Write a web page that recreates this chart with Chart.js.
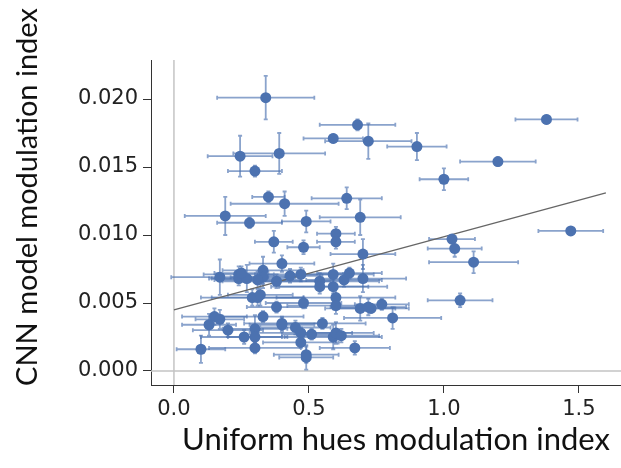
<!DOCTYPE html>
<html>
<head>
<meta charset="utf-8">
<script src="https://cdn.jsdelivr.net/npm/chart.js@4/dist/chart.umd.min.js"></script>
<style>
  html, body { margin: 0; padding: 0; background: #fff; }
  #wrap { width: 621px; height: 468px; }
</style>
</head>
<body>
<div id="wrap"><canvas id="scatterChart" width="621" height="468"></canvas></div>
<script>
// valores
const xVals = [0.34, 0.68, 0.59, 0.72, 0.245, 0.39, 0.30, 0.35, 0.41, 0.64, 0.19, 0.69,
    1.38, 0.90, 1.20, 1.00, 1.47, 1.03, 1.04, 1.11, 1.06, 0.77, 0.81, 0.73,
    0.28, 0.49, 0.60, 0.60, 0.37, 0.48, 0.70, 0.40, 0.17, 0.24, 0.24, 0.27,
    0.33, 0.33, 0.31, 0.38, 0.47, 0.54, 0.54, 0.59, 0.59, 0.63, 0.65, 0.70,
    0.29, 0.31, 0.32, 0.38, 0.48, 0.60, 0.60, 0.69, 0.72, 0.33, 0.15, 0.13,
    0.17, 0.20, 0.26, 0.30, 0.30, 0.30, 0.40, 0.45, 0.47, 0.47, 0.51, 0.49,
    0.49, 0.59, 0.60, 0.67, 0.10, 0.40, 0.55, 0.25, 0.43, 0.62];
const yVals = [0.0201, 0.0181, 0.0171, 0.0169, 0.0158, 0.0160, 0.0147, 0.0128, 0.0123, 0.0127, 0.0114, 0.0113,
    0.0185, 0.0165, 0.0154, 0.0141, 0.0103, 0.0097, 0.0090, 0.0080, 0.0052, 0.0049, 0.0039, 0.0046,
    0.0109, 0.0110, 0.0101, 0.0095, 0.0095, 0.0091, 0.0086, 0.0079, 0.0069, 0.0071, 0.0068, 0.0068,
    0.0074, 0.0069, 0.0067, 0.0066, 0.0071, 0.0066, 0.0062, 0.0071, 0.0062, 0.0067, 0.0072, 0.0068,
    0.0054, 0.0054, 0.0056, 0.0047, 0.0050, 0.0054, 0.0048, 0.0046, 0.0047, 0.0040, 0.0040, 0.0034,
    0.0038, 0.0030, 0.0025, 0.0031, 0.0025, 0.0017, 0.0034, 0.0032, 0.0028, 0.0021, 0.0027, 0.0012,
    0.0010, 0.0025, 0.0028, 0.0017, 0.0016, 0.0035, 0.0035, 0.0072, 0.0070, 0.0026];
const xErr = [0.18, 0.14, 0.11, 0.16, 0.12, 0.17, 0.10, 0.06, 0.20, 0.13, 0.15, 0.15,
    0.115, 0.11, 0.14, 0.09, 0.12, 0.085, 0.10, 0.165, 0.12, 0.10, 0.18, 0.14,
    0.12, 0.09, 0.07, 0.07, 0.07, 0.06, 0.12, 0.12, 0.18, 0.13, 0.10, 0.14,
    0.15, 0.12, 0.16, 0.20, 0.17, 0.22, 0.18, 0.15, 0.20, 0.14, 0.12, 0.16,
    0.19, 0.17, 0.12, 0.11, 0.14, 0.22, 0.18, 0.13, 0.14, 0.15, 0.12, 0.10,
    0.09, 0.13, 0.16, 0.12, 0.10, 0.17, 0.12, 0.13, 0.19, 0.14, 0.11, 0.12,
    0.10, 0.18, 0.14, 0.13, 0.09, 0.14, 0.16, 0.10, 0.12, 0.14];
const yErr = [0.0016, 0.0004, 0.0003, 0.0013, 0.0015, 0.0015, 0.0004, 0.0004, 0.0009, 0.0008, 0.0014, 0.0013,
    0.0003, 0.0010, 0.0003, 0.0008, 0.0002, 0.0003, 0.0006, 0.0008, 0.0005, 0.0004, 0.0008, 0.0003,
    0.0004, 0.0008, 0.0005, 0.0005, 0.0008, 0.0005, 0.0011, 0.0006, 0.0013, 0.0006, 0.0005, 0.0010,
    0.0010, 0.0008, 0.0006, 0.0005, 0.0005, 0.0006, 0.0005, 0.0008, 0.0005, 0.0005, 0.0004, 0.0010,
    0.0006, 0.0006, 0.0008, 0.0004, 0.0004, 0.0008, 0.0006, 0.0009, 0.0006, 0.0004, 0.0006, 0.0008,
    0.0007, 0.0005, 0.0005, 0.0010, 0.0005, 0.0004, 0.0005, 0.0005, 0.0004, 0.0004, 0.0004, 0.0006,
    0.0009, 0.0009, 0.0008, 0.0005, 0.0010, 0.0005, 0.0004, 0.0005, 0.0005, 0.0005];

// recta de regresión
const regX = [0, 1.6];
const regY = [0.0045, 0.0131];

const xTickValues = [0, 0.5, 1.0, 1.5];
const yTickValues = [0, 0.005, 0.010, 0.015, 0.020];

const xTitle = 'Uniform hues modulation index';
const yTitle = 'CNN model modulation index';

const azul = '#4c72b0';
const azulBarras = 'rgba(76, 114, 176, 0.65)';

document.addEventListener('DOMContentLoaded', function() {
    const puntos = xVals.map((x, i) => ({ x: x, y: yVals[i] }));
    const recta = regX.map((x, i) => ({ x: x, y: regY[i] }));

    // líneas grises en cero y barras de error, debajo de los puntos
    const fondoPlugin = {
        id: 'fondo',
        beforeDatasetsDraw(chart) {
            const ctx = chart.ctx;
            const xs = chart.scales.x, ys = chart.scales.y;
            const area = chart.chartArea;
            ctx.save();
            ctx.strokeStyle = '#c4c4c4';
            ctx.lineWidth = 1.5;
            ctx.beginPath();
            const x0 = xs.getPixelForValue(0);
            const y0 = ys.getPixelForValue(0);
            ctx.moveTo(x0, area.top);
            ctx.lineTo(x0, area.bottom);
            ctx.moveTo(area.left, y0);
            ctx.lineTo(area.right, y0);
            ctx.stroke();

            ctx.strokeStyle = azulBarras;
            ctx.lineWidth = 1.8;
            const cap = 2;
            xVals.forEach((x, i) => {
                const px = xs.getPixelForValue(x);
                const py = ys.getPixelForValue(yVals[i]);
                const xl = xs.getPixelForValue(x - xErr[i]);
                const xr = xs.getPixelForValue(x + xErr[i]);
                const yt = ys.getPixelForValue(yVals[i] + yErr[i]);
                const yb = ys.getPixelForValue(yVals[i] - yErr[i]);
                ctx.beginPath();
                ctx.moveTo(xl, py); ctx.lineTo(xr, py);
                ctx.moveTo(xl, py - cap); ctx.lineTo(xl, py + cap);
                ctx.moveTo(xr, py - cap); ctx.lineTo(xr, py + cap);
                ctx.moveTo(px, yt); ctx.lineTo(px, yb);
                ctx.moveTo(px - cap, yt); ctx.lineTo(px + cap, yt);
                ctx.moveTo(px - cap, yb); ctx.lineTo(px + cap, yb);
                ctx.stroke();
            });
            ctx.restore();
        }
    };

    // títulos de ejes colocados como en la figura
    const titulosPlugin = {
        id: 'titulos',
        afterDraw(chart) {
            const ctx = chart.ctx;
            ctx.save();
            ctx.fillStyle = '#111';
            ctx.textAlign = 'center';
            ctx.textBaseline = 'middle';
            ctx.font = '31px Lato';
            ctx.fillText(xTitle, 396, 440);
            ctx.font = '29px Lato';
            ctx.translate(28, 197);
            ctx.rotate(-Math.PI / 2);
            ctx.fillText(yTitle, 0, 0);
            ctx.restore();
        }
    };

    const scatterCtx = document.getElementById('scatterChart').getContext('2d');
    new Chart(scatterCtx, {
        type: 'scatter',
        data: {
            datasets: [{
                label: 'regresión',
                type: 'line',
                data: recta,
                borderColor: '#666',
                borderWidth: 1.3,
                pointRadius: 0,
                fill: false,
                order: 2
            }, {
                label: 'neuronas',
                data: puntos,
                backgroundColor: azul,
                borderColor: azul,
                pointRadius: 5.5,
                pointBorderWidth: 0,
                order: 1
            }]
        },
        options: {
            responsive: false,
            animation: false,
            devicePixelRatio: 1,
            layout: { autoPadding: false, padding: { top: 60, right: 0, left: 0, bottom: 0 } },
            plugins: {
                legend: { display: false },
                tooltip: { enabled: false }
            },
            scales: {
                x: {
                    type: 'linear',
                    min: -0.085,
                    max: 1.656,
                    afterFit: function(scale) {
                        scale.height = 83;
                        scale.paddingRight = 0;
                        scale.paddingLeft = 0;
                    },
                    afterBuildTicks: function(scale) {
                        scale.ticks = xTickValues.map(v => ({ value: v }));
                    },
                    grid: { drawOnChartArea: false, drawTicks: true, tickLength: 8, color: '#333' },
                    border: { display: true, color: '#333', width: 1 },
                    ticks: {
                        color: '#222',
                        font: { family: 'DejaVu Sans', size: 21 },
                        padding: 4,
                        callback: v => v.toFixed(1)
                    }
                },
                y: {
                    type: 'linear',
                    min: -0.00103,
                    max: 0.02287,
                    afterFit: function(scale) {
                        scale.width = 151;
                        scale.paddingTop = 0;
                        scale.paddingBottom = 0;
                    },
                    afterBuildTicks: function(scale) {
                        scale.ticks = yTickValues.map(v => ({ value: v }));
                    },
                    grid: { drawOnChartArea: false, drawTicks: true, tickLength: 8, color: '#333' },
                    border: { display: true, color: '#333', width: 1 },
                    ticks: {
                        color: '#222',
                        font: { family: 'DejaVu Sans', size: 21 },
                        padding: 5,
                        callback: v => v.toFixed(3)
                    }
                }
            }
        },
        plugins: [fondoPlugin, titulosPlugin]
    });
});
</script>
</body>
</html>
